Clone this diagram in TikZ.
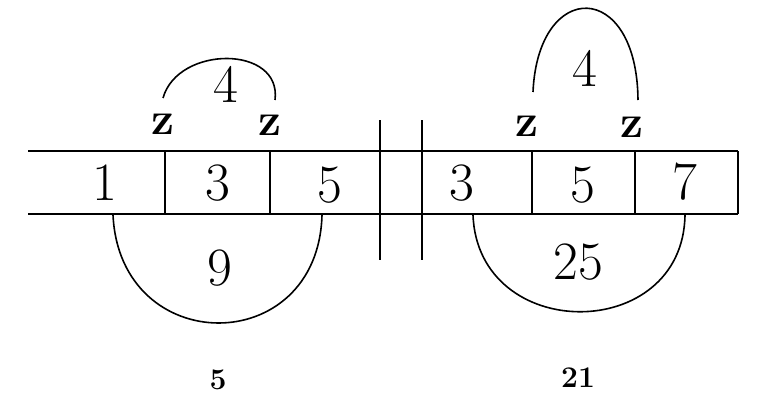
\documentclass[tikz,border=0pt]{standalone}
\usepackage{amsmath}
\usepackage{fontspec}
\usepackage{tikz}

\begin{document}
\begin{tikzpicture}[x=1pt,y=-1pt,line width=1.6pt,
    digit/.style={font=\fontsize{54}{54}\selectfont},
    twomark/.style={font=\fontsize{46}{46}\selectfont\bfseries},
    caption/.style={font=\fontsize{30}{30}\selectfont\bfseries}]
    \useasboundingbox (0,0) rectangle (761,404);

    % the strip
    \coordinate (tl) at (28,151);
    \coordinate (tr) at (738,151);
    \coordinate (bl) at (28,214);
    \coordinate (br) at (738,214);
    \draw (tl)--(tr);
    \draw (bl)--(br);
    \foreach \x in {165,270,532,635,738}
        \draw (\x,151)--(\x,214);
    \foreach \x in {380,422}
        \draw (\x,120)--(\x,260);

    % numbers in the cells
    \node[digit] (c1) at (105,183) {1};
    \node[digit] (c3) at (218,183) {3};
    \node[digit] (c5) at (330,185) {5};
    \node[digit] (d3) at (462,183) {3};
    \node[digit] (d5) at (583,185) {5};
    \node[digit] (d7) at (685,182) {7};

    \node[twomark] (za) at (163,124) {z};
    \node[twomark] (zb) at (270,125) {z};
    \node[twomark] (zc) at (527,126) {z};
    \node[twomark] (zd) at (632,127) {z};

    % arcs
    \coordinate (ua) at (163,98);
    \coordinate (ub) at (275,100);
    \coordinate (uc) at (533,92);
    \coordinate (ud) at (638,100);
    \coordinate (la) at (113,215);
    \coordinate (lb) at (322,215);
    \coordinate (lc) at (473,215);
    \coordinate (ld) at (685,215);
    \draw (ua) .. controls (178,45) and (282,45) .. (ub);
    \draw (uc) .. controls (538,-21) and (637,-21) .. (ud);
    \draw (la) .. controls (120,359) and (318,359) .. (lb);
    \draw (lc) .. controls (478,344) and (683,344) .. (ld);

    \node[digit] (sq4a) at (226,84) {4};
    \node[digit] (sq4b) at (585,68) {4};
    \node[digit] (sq9) at (220,268) {9};
    \node[digit] (sq25) at (578,262) {25};

    \node[caption] (sum5) at (218,380) {5};
    \node[caption] (sum21) at (578,378) {21};
\end{tikzpicture}
\end{document}
